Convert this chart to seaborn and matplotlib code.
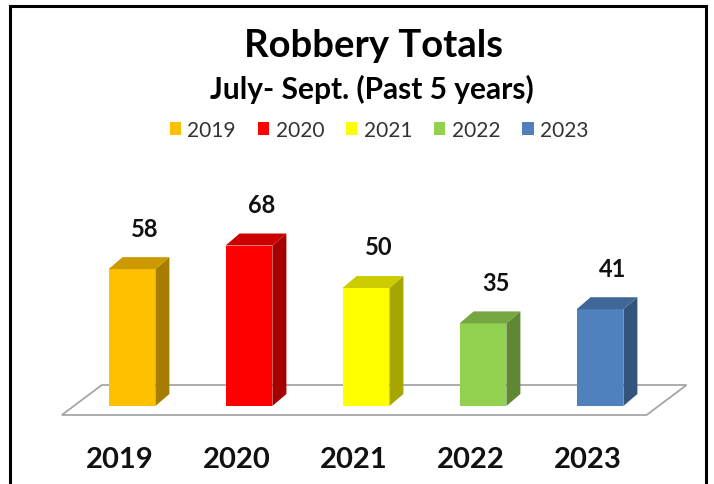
import matplotlib
matplotlib.use("Agg")
import matplotlib.pyplot as plt
import matplotlib.colors as mcolors
import matplotlib.transforms as mtransforms
from matplotlib.patches import Polygon, Rectangle
import seaborn as sns

years = ["2019", "2020", "2021", "2022", "2023"]
totals = [58, 68, 50, 35, 41]
colors = ["#FFC000", "#FF0000", "#FFFF00", "#92D050", "#4F81BD"]

sns.set_theme(style="white")
plt.rcParams["font.family"] = ["Lato", "DejaVu Sans"]

W, H = 714, 485
fig = plt.figure(figsize=(W / 100, H / 100), dpi=100)

# axes placed in pixels: y=0 sits at 407 px from top, 2.36 px per unit
ax_bottom, ax_top = 78, 335
ax = fig.add_axes([0, ax_bottom / H, 1, (ax_top - ax_bottom) / H])
ax.patch.set_alpha(0)

sns.barplot(x=years, y=totals, hue=years, palette=colors, width=0.4,
            saturation=1, ax=ax, legend=True, zorder=3, edgecolor="none", linewidth=0)

step = 117.0
px_unit = 2.36
ax.set_xlim(-132 / step, (W - 132) / step)
ax.set_ylim(0, (ax_top - ax_bottom) / px_unit)

# fake 3D depth for each bar
dx = 14 / step
dy = 12 / px_unit
for bar, c in zip(ax.patches, colors):
    x0, w, h = bar.get_x(), bar.get_width(), bar.get_height()
    rgb = mcolors.to_rgb(c)
    side = tuple(v * 0.65 for v in rgb)
    top = tuple(v * 0.8 for v in rgb)
    ax.add_patch(Polygon([(x0 + w, 0), (x0 + w + dx, dy), (x0 + w + dx, h + dy), (x0 + w, h)],
                         closed=True, fc=side, ec="none", zorder=3))
    ax.add_patch(Polygon([(x0, h), (x0 + dx, h + dy), (x0 + w + dx, h + dy), (x0 + w, h)],
                         closed=True, fc=top, ec="none", zorder=3))
    ax.text(x0 + w / 2 + dx * 0.9, h + 41 / px_unit, f"{h:.0f}", ha="center", va="center",
            fontsize=17, fontweight="bold", color="#111111", zorder=4)

# floor
n = len(years)
fl_front, fl_back = -9 / px_unit, 21 / px_unit
floor = Polygon([(-0.6, fl_front), (-0.6 + 40 / step, fl_back),
                 (n - 1 + 0.74, fl_back), (n - 1 + 0.74 - 40 / step, fl_front)],
                closed=True, fc="white", ec="#A6A6A6", lw=1.3, zorder=1, clip_on=False)
ax.add_patch(floor)

sns.despine(ax=ax, left=True, bottom=True)
ax.set_yticks([])
ax.tick_params(axis="x", length=0, pad=29)
shift = mtransforms.ScaledTranslation(-12 / 100, 0, fig.dpi_scale_trans)
for lab in ax.get_xticklabels():
    lab.set_fontsize(21)
    lab.set_fontweight("bold")
    lab.set_color("#111111")
    lab.set_transform(lab.get_transform() + shift)

sns.move_legend(ax, "center", bbox_to_anchor=(379 / W, (H - 131 - ax_bottom) / (ax_top - ax_bottom)),
                ncol=5, frameon=False, title=None, fontsize=15, handlelength=0.55,
                handleheight=0.55, handletextpad=0.3, columnspacing=1.05)
for t in ax.get_legend().get_texts():
    t.set_color("#333333")

fig.text(373 / W, 1 - 46 / H, "Robbery Totals", ha="center", va="center",
         fontsize=27.5, fontweight="bold", color="black")
fig.text(372 / W, 1 - 89 / H, "July- Sept. (Past 5 years)", ha="center", va="center",
         fontsize=21.5, fontweight="bold", color="black")

# outer frame
fig.patches.append(Rectangle((10 / W, -0.05), 696 / W, 1.05 - 7 / H, transform=fig.transFigure,
                             fill=False, ec="black", lw=2.2))

fig.savefig("out.png", dpi=100)
